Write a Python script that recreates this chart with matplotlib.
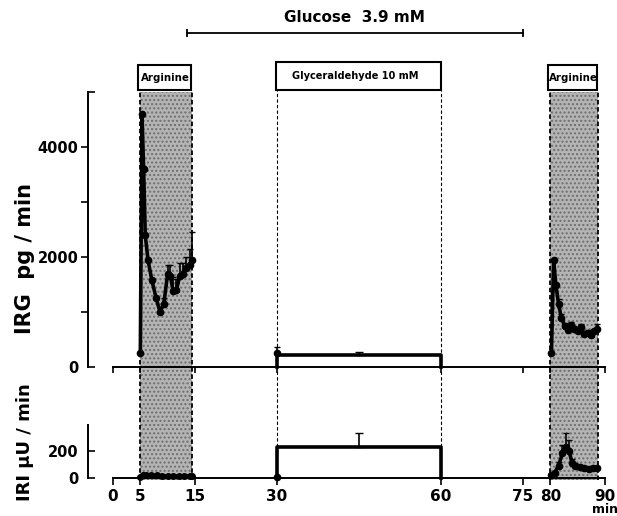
import numpy as np
import matplotlib.pyplot as plt
from matplotlib.patches import Rectangle
from matplotlib.transforms import blended_transform_factory

plt.rcParams['font.family'] = ['DejaVu Sans']
plt.rcParams['font.weight'] = 'bold'

# perfusion protocol (min)
arginine_periods = [(5.0, 14.5), (80.0, 88.7)]
glyceraldehyde_period = (30.0, 60.0)
glucose_period = (13.5, 75.0)
x_ticks = [0, 5, 15, 30, 60, 75, 80, 90]
x_ticklabels = ["0", "5", "15", "30", "60", "75", "80", "90"]

# IRG (pg/min), first arginine pulse
irg_t1 = [5.0, 5.3, 5.6, 5.9, 6.4, 7.1, 7.9, 8.6, 9.3, 10.0, 10.5, 11.0,
          11.6, 12.2, 12.8, 13.4, 14.0, 14.4]
irg_v1 = [250, 4600, 3600, 2400, 1950, 1580, 1250, 1000, 1150, 1700, 1650,
          1380, 1400, 1650, 1700, 1800, 1850, 1950]
irg_e1 = [0, 0, 0, 0, 0, 0, 0, 0, 100, 150, 200, 250, 200, 250, 200, 200,
          300, 500]

# IRG, second arginine pulse
irg_t2 = [80.2, 80.6, 81.0, 81.5, 82.0, 82.6, 83.2, 83.8, 84.4, 85.0, 85.6,
          86.2, 86.8, 87.4, 88.0, 88.6]
irg_v2 = [250, 1950, 1500, 1150, 900, 750, 680, 760, 700, 650, 720, 600,
          620, 580, 650, 700]
irg_e2 = [0, 0, 0, 80, 60, 50, 50, 60, 50, 50, 60, 40, 50, 40, 50, 80]

# IRG during glyceraldehyde
irg_glyc_start = 250
irg_glyc_start_err = 120
irg_glyc_mean = 220
irg_glyc_err = 60

# IRI (uU/min)
iri_t1 = [5.0, 5.5, 6.0, 7.0, 8.0, 9.0, 10.0, 11.0, 12.0, 13.0, 14.0, 14.4]
iri_v1 = [10, 25, 25, 20, 20, 15, 15, 15, 15, 15, 15, 15]
iri_t2 = [80.2, 80.8, 81.5, 82.2, 82.8, 83.4, 84.0, 84.6, 85.4, 86.2, 87.0,
          87.8, 88.6]
iri_v2 = [20, 40, 90, 180, 230, 200, 110, 90, 80, 70, 65, 70, 70]
iri_e2 = [0, 0, 30, 60, 100, 80, 30, 20, 15, 15, 10, 15, 15]
iri_glyc_start = 10
iri_glyc_mean = 225
iri_glyc_err = 105

W, H = 617, 516
fig = plt.figure(figsize=(W / 100, H / 100), dpi=100)


def fx(px):
    return px / W


def fy(py):
    return 1 - py / H


x0, x1 = 113, 605
left, width = fx(x0), fx(x1) - fx(x0)
spine_offset = 25 * 72 / 100  # 25 px, in points

# overlay for shading, boxes and the glucose bar
ov = fig.add_axes([left, fy(480), width, fy(10) - fy(480)], zorder=0)
ov.set_xlim(0, 90)
ov.set_ylim(0, 1)
ov.axis("off")


def oy(py):
    return (480 - py) / 470


for a, b in arginine_periods:
    ov.add_patch(Rectangle((a, 0), b - a, oy(92), facecolor="#b4b4b4",
                           edgecolor="#6e6e6e", hatch="....", lw=0))
    ov.vlines([a, b], 0, oy(92), colors="black", linestyles=(0, (2.5, 1.5)), lw=1.3)
    ov.add_patch(Rectangle((a - 0.5, oy(90)), b - a + 0.3, oy(65) - oy(90),
                           facecolor="white", edgecolor="black", lw=1.5))
    ov.text((a + b) / 2 - 0.1, (oy(65) + oy(90)) / 2 - 0.002, "Arginine",
            ha="center", va="center", fontsize=8.2, fontstretch="condensed",
            fontweight="bold")

ga, gb = glyceraldehyde_period
ov.vlines([ga, gb], 0, oy(90), colors="black", linestyles=(0, (3, 2)), lw=0.8)
ov.add_patch(Rectangle((ga - 0.2, oy(90)), gb - ga + 0.2, oy(62) - oy(90),
                       facecolor="white", edgecolor="black", lw=1.5))
ov.text((ga + gb) / 2 - 0.7, (oy(62) + oy(90)) / 2, "Glyceraldehyde 10 mM",
        ha="center", va="center", fontsize=7.8, fontstretch="condensed",
        fontweight="bold")

ca, cb = glucose_period
ov.plot([ca, cb], [oy(33), oy(33)], color="black", lw=1.3)
ov.vlines([ca, cb], oy(37), oy(29), colors="black", lw=1.3)
ov.text((ca + cb) / 2, oy(18), "Glucose  3.9 mM", ha="center", va="center",
        fontsize=11, fontweight="bold")

# upper panel: IRG
ax = fig.add_axes([left, fy(367), width, fy(92) - fy(367)], zorder=1)
ax.patch.set_alpha(0)
ax.set_xlim(0, 90)
ax.set_ylim(0, 5000)
for s in ("top", "right"):
    ax.spines[s].set_visible(False)
ax.spines["left"].set_position(("outward", spine_offset))
ax.spines["left"].set_bounds(0, 5000)
for s in ("left", "bottom"):
    ax.spines[s].set_linewidth(1.4)
ax.set_xticks(x_ticks)
ax.set_xticklabels([])
ax.tick_params(axis="x", direction="out", length=4, width=1.2)
ax.set_yticks([1000, 2000, 3000, 4000])
ax.set_yticklabels(["", "2000", "", "4000"])
ax.set_yticks([0, 5000], minor=True)
ax.set_yticklabels(["0", ""], minor=True)
ax.tick_params(axis="y", which="major", direction="out", length=5, width=1.2,
               pad=2, labelsize=10.5)
ax.tick_params(axis="y", which="minor", direction="in", length=5, width=1.2,
               pad=7, labelsize=10.5)

line_kw = dict(color="black", lw=2.6, marker="o", ms=4.5, capsize=2.5,
               elinewidth=1.2, clip_on=False)
ax.errorbar(irg_t1, irg_v1, yerr=[np.zeros(len(irg_e1)), irg_e1], **line_kw)
ax.errorbar(irg_t2, irg_v2, yerr=[np.zeros(len(irg_e2)), irg_e2], **line_kw)
ax.errorbar([ga], [irg_glyc_start], yerr=[[0], [irg_glyc_start_err]], **line_kw)
ax.plot([ga, ga, gb, gb], [0, irg_glyc_mean, irg_glyc_mean, 0], color="black",
        lw=2.6, clip_on=False)
ax.errorbar([(ga + gb) / 2], [irg_glyc_mean], yerr=[[0], [irg_glyc_err]],
            color="black", capsize=3, elinewidth=1.2, fmt="none")

# lower panel: IRI
bx = fig.add_axes([left, fy(478), width, fy(367) - fy(478)], zorder=1)
bx.patch.set_alpha(0)
bx.set_xlim(0, 90)
bx.set_ylim(0, 815)
for s in ("top", "right"):
    bx.spines[s].set_visible(False)
bx.spines["left"].set_position(("outward", spine_offset))
bx.spines["left"].set_bounds(0, 390)
for s in ("left", "bottom"):
    bx.spines[s].set_linewidth(1.4)
bx.set_xticks(x_ticks)
bx.set_xticklabels(x_ticklabels)
bx.tick_params(axis="x", direction="out", length=5, width=1.2, labelsize=11,
               pad=3)
bx.set_yticks([0, 200])
bx.set_yticklabels(["0", "200"])
bx.tick_params(axis="y", direction="in", length=5, width=1.2, pad=7,
               labelsize=10.5)

bx.plot(iri_t1, iri_v1, color="black", lw=2.8, marker="o", ms=4, clip_on=False)
bx.errorbar(iri_t2, iri_v2, yerr=[np.zeros(len(iri_e2)), iri_e2], **line_kw)
bx.plot([ga], [iri_glyc_start], color="black", marker="o", ms=4.5, clip_on=False)
bx.plot([ga, ga, gb, gb], [0, iri_glyc_mean, iri_glyc_mean, 0], color="black",
        lw=2.6, clip_on=False)
bx.errorbar([(ga + gb) / 2], [iri_glyc_mean], yerr=[[0], [iri_glyc_err]],
            color="black", capsize=3, elinewidth=1.2, fmt="none")

tr = blended_transform_factory(bx.transData, bx.transAxes)
bx.text(90, -0.28, "min", transform=tr, ha="center", va="center", fontsize=9)

fig.text(fx(25), fy(258), "IRG  pg / min", rotation=90, ha="center",
         va="center", fontsize=15)
fig.text(fx(25), fy(442), "IRI µU / min", rotation=90, ha="center",
         va="center", fontsize=13)

fig.savefig("out.png", dpi=100)
